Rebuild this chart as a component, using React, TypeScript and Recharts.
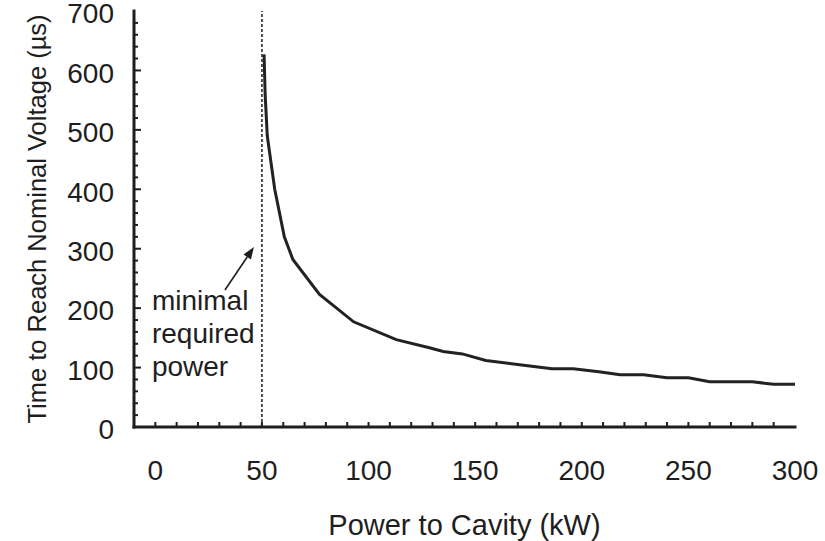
import React from "react";
import { LineChart, Line, XAxis, YAxis, ReferenceLine } from "recharts";

// values
const POWER_KW = [51, 51.5, 52.5, 56, 60.5, 64.5, 77, 93, 113, 129, 135, 144, 155, 168, 186, 196, 208, 218, 229, 240, 250, 260, 280, 290, 300];
const TIME_US = [627, 560, 490, 400, 320, 282, 223, 177, 147, 133, 127, 123, 112, 106, 98, 98, 93, 88, 88, 83, 83, 76, 76, 72, 72];

const X_TICKS = [0, 10, 20, 30, 40, 50, 60, 70, 80, 90, 100, 110, 120, 130, 140, 150, 160, 170, 180, 190, 200, 210, 220, 230, 240, 250, 260, 270, 280, 290, 300];
const X_LABELS = [0, 50, 100, 150, 200, 250, 300];
const Y_TICKS = [0, 20, 40, 60, 80, 100, 120, 140, 160, 180, 200, 220, 240, 260, 280, 300, 320, 340, 360, 380, 400, 420, 440, 460, 480, 500, 520, 540, 560, 580, 600, 620, 640, 660, 680, 700];
const Y_LABELS = [0, 100, 200, 300, 400, 500, 600, 700];

const MIN_POWER = 50;
const NOTE_LINES = ["minimal", "required", "power"];
const X_TITLE = "Power to Cavity (kW)";
const Y_TITLE = "Time to Reach Nominal Voltage (\u00b5s)";

const data = POWER_KW.map((p, i) => ({ power: p, time: TIME_US[i] }));

const INK = "#1e1e1e";
const FONT = "'Liberation Sans', Arial, sans-serif";
const FS = 28;

const BottomTick = ({ x, y, payload }: any) => {
  const v = payload.value;
  return (
    <g>
      {v < 300 && <line x1={x} x2={x} y1={y} y2={y - 5} stroke={INK} strokeWidth={2} />}
      {X_LABELS.includes(v) && (
        <text x={x} y={y + 53} textAnchor="middle" fontSize={FS} fill={INK} fontFamily={FONT}>
          {v}
        </text>
      )}
    </g>
  );
};

const TopTick = ({ x, y, payload }: any) =>
  payload.value < 300 ? <line x1={x} x2={x} y1={y} y2={y + 4} stroke={INK} strokeWidth={2} /> : <g />;

const LeftTick = ({ x, y, payload }: any) => {
  const v = payload.value;
  const major = Y_LABELS.includes(v);
  return (
    <g>
      {v > 0 && v < 700 && <line x1={x} x2={x + (major ? 7 : 4)} y1={y} y2={y} stroke={INK} strokeWidth={2} />}
      {major && (
        <text x={x - 20} y={y} dy="0.44em" textAnchor="end" fontSize={FS} fill={INK} fontFamily={FONT}>
          {v}
        </text>
      )}
    </g>
  );
};

const RightTick = ({ x, y, payload }: any) =>
  payload.value > 0 && payload.value < 700 ? (
    <line x1={x} x2={x - 4} y1={y} y2={y} stroke={INK} strokeWidth={2} />
  ) : (
    <g />
  );

const MinPowerNote = ({ viewBox }: any) => {
  const { x, y } = viewBox;
  const tip = { x: x - 8, y: y + 236 };
  const tail = { x: x - 37, y: y + 279 };
  const dx = tip.x - tail.x;
  const dy = tip.y - tail.y;
  const len = Math.hypot(dx, dy);
  const ux = dx / len;
  const uy = dy / len;
  const bx = tip.x - 12 * ux;
  const by = tip.y - 12 * uy;
  const head = `${tip.x},${tip.y} ${bx - 4.5 * uy},${by + 4.5 * ux} ${bx + 4.5 * uy},${by - 4.5 * ux}`;
  return (
    <g>
      <line x1={tail.x} y1={tail.y} x2={bx} y2={by} stroke={INK} strokeWidth={1.6} />
      <polygon points={head} fill={INK} />
      {NOTE_LINES.map((t, i) => (
        <text key={t} x={x - 110} y={y + 299 + i * 33} fontSize={FS} fill={INK} fontFamily={FONT}>
          {t}
        </text>
      ))}
    </g>
  );
};

export default function App() {
  return (
    <div style={{ position: "absolute", left: 0, top: 0, background: "#fff" }}>
      <LineChart width={825} height={541} data={data} margin={{ top: 11, right: 30, left: 0, bottom: 0 }}>
        <XAxis
          dataKey="power"
          type="number"
          domain={[-10, 300]}
          ticks={X_TICKS}
          interval={0}
          height={114}
          tickSize={0}
          tickMargin={0}
          tickLine={false}
          tick={BottomTick}
          axisLine={{ stroke: INK, strokeWidth: 3, strokeLinecap: "square" }}
          allowDataOverflow
          label={{
            content: ({ viewBox }: any) => (
              <text x={viewBox.x + viewBox.width / 2} y={viewBox.y + 108} textAnchor="middle" fontSize={29} fill={INK} fontFamily={FONT}>
                {X_TITLE}
              </text>
            ),
          }}
        />
        <XAxis
          xAxisId="top"
          orientation="top"
          dataKey="power"
          type="number"
          domain={[-10, 300]}
          ticks={X_TICKS}
          interval={0}
          height={0}
          tickSize={0}
          tickMargin={0}
          tickLine={false}
          tick={TopTick}
          axisLine={{ stroke: INK, strokeWidth: 2.5, strokeLinecap: "square" }}
        />
        <YAxis
          type="number"
          domain={[0, 700]}
          ticks={Y_TICKS}
          interval={0}
          width={134}
          tickSize={0}
          tickMargin={0}
          tickLine={false}
          tick={LeftTick}
          axisLine={{ stroke: INK, strokeWidth: 3, strokeLinecap: "square" }}
          allowDataOverflow
          label={{
            content: ({ viewBox }: any) => {
              const cx = viewBox.x + 46;
              const cy = viewBox.y + viewBox.height / 2;
              return (
                <text
                  x={cx}
                  y={cy}
                  transform={`rotate(-90 ${cx} ${cy})`}
                  textAnchor="middle"
                  fontSize={25.5}
                  fill={INK}
                  fontFamily={FONT}
                >
                  {Y_TITLE}
                </text>
              );
            },
          }}
        />
        <YAxis
          yAxisId="right"
          orientation="right"
          type="number"
          domain={[0, 700]}
          ticks={Y_TICKS}
          interval={0}
          width={0}
          tickSize={0}
          tickMargin={0}
          tickLine={false}
          tick={RightTick}
          axisLine={{ stroke: INK, strokeWidth: 3, strokeLinecap: "square" }}
        />
        <ReferenceLine
          x={MIN_POWER}
          stroke={INK}
          strokeWidth={1.5}
          strokeDasharray="3 2"
          label={<MinPowerNote />}
        />
        <Line
          dataKey="time"
          type="linear"
          stroke="#222"
          strokeWidth={3}
          dot={false}
          isAnimationActive={false}
        />
      </LineChart>
    </div>
  );
}
